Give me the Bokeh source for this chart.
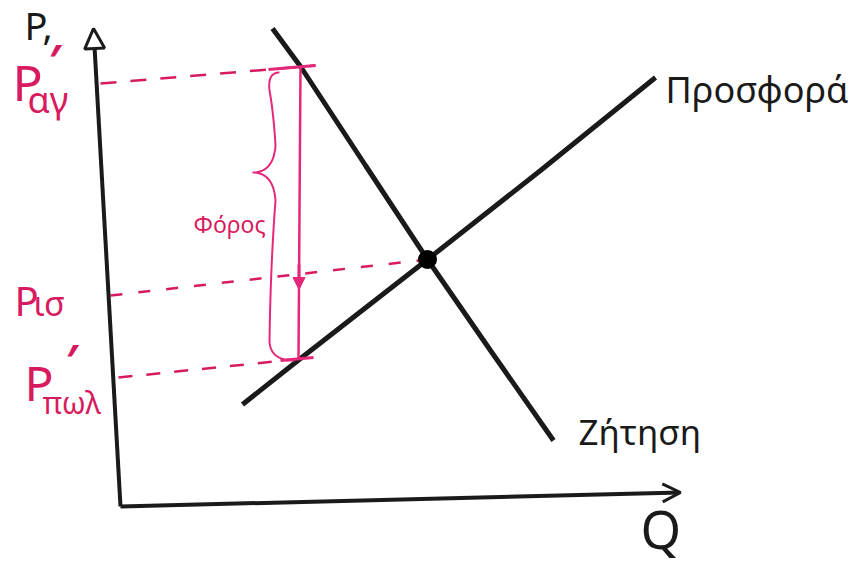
import numpy as np
from bokeh.plotting import figure
from bokeh.models import Range1d, Arrow, NormalHead, OpenHead
from bokeh.core.properties import value
from bokeh.embed import file_html
from bokeh.resources import INLINE

# ---- data (Q, P in sketch units) ----
demand_q = [15.2, 18.0, 24.5, 30.7, 37.0, 43.3]
demand_p = [47.8, 44.0, 34.1, 24.7, 15.6, 6.6]
supply_q = [12.2, 18.0, 30.7, 42.0, 53.5]
supply_p = [10.2, 14.8, 24.7, 33.6, 42.9]
eq_q, eq_p = 30.7, 24.7
p_buyer, p_eq, p_seller = 44.0, 24.7, 14.8        # price levels at the curves
p_buyer_axis, p_eq_axis, p_seller_axis = 42.3, 21.1, 12.9   # hand-drawn level at the P axis
q_tax = 17.9                                       # quantity where the tax arrow is drawn
labels_main = ["P", "P", "P"]
labels_sub = ["αγ", "ισ", "πωλ"]
label_tax = "Φόρος"
label_supply = "Προσφορά"
label_demand = "Ζήτηση"
axis_p_label = "P,"
axis_q_label = "Q"

PINK = "#d81b60"
PINK2 = "#e6287a"
INK = "#1a1a1a"
FONT = value("Noto Sans")

p = figure(width=857, height=568, output_backend="svg", toolbar_location=None,
           x_range=Range1d(-12.0, 73.7), y_range=Range1d(-6.2, 50.6),
           min_border=0, background_fill_color="white")
p.axis.visible = False
p.grid.visible = False
p.outline_line_color = None

# axes (hand drawn)
p.add_layout(Arrow(end=NormalHead(size=20, fill_color="white", line_color=INK, line_width=3),
                   x_start=0, y_start=0, x_end=-2.7, y_end=47.8,
                   line_color=INK, line_width=4))
p.add_layout(Arrow(end=OpenHead(size=18, line_color=INK, line_width=3),
                   x_start=0, y_start=0, x_end=56.0, y_end=1.4,
                   line_color=INK, line_width=4))

# dashed price lines
p.line([-2.0, q_tax + 1.6], [p_buyer_axis, p_buyer + 0.1], line_color=PINK,
       line_width=2.5, line_dash="16 14")
p.line([-1.0, eq_q], [p_eq_axis, p_eq], line_color=PINK, line_width=2.5, line_dash="12 16")
p.line([-0.2, q_tax + 1.4], [p_seller_axis, p_seller + 0.1], line_color=PINK,
       line_width=2.5, line_dash="14 14")

# curves
p.line(demand_q, demand_p, line_color=INK, line_width=5)
p.line(supply_q, supply_p, line_color=INK, line_width=5)
p.scatter([eq_q], [eq_p], size=18, color="black")

# tax arrow
p.line([q_tax + 0.1, q_tax - 0.1], [p_buyer, p_seller], line_color=PINK2, line_width=2.5)
p.line([q_tax - 3.1, q_tax + 1.6], [p_buyer - 0.3, p_buyer + 0.1], line_color=PINK2, line_width=3)
p.line([q_tax - 1.9, q_tax + 1.4], [p_seller - 0.2, p_seller + 0.1], line_color=PINK2, line_width=3)
p.add_layout(Arrow(end=NormalHead(size=12, fill_color=PINK2, line_color=PINK2),
                   x_start=q_tax - 0.05, y_start=p_eq - 0.5, x_end=q_tax - 0.05, y_end=p_eq - 3.0,
                   line_color=PINK2, line_width=3))

# curly brace
def qbez(a, c, b, n=20):
    t = np.linspace(0, 1, n)[:, None]
    a, c, b = map(np.array, (a, c, b))
    return (1 - t) ** 2 * a + 2 * (1 - t) * t * c + t ** 2 * b

top, bot = p_buyer - 0.6, p_seller - 0.2
mid = (top + bot) / 2 + 4.4
xs, tip = q_tax - 2.6, q_tax - 4.7
segs = [
    qbez((xs + 0.6, top), (xs - 0.6, top), (xs - 0.4, top - 1.8)),
    qbez((xs - 0.4, top - 1.8), (xs, top - 4), (xs + 0.2, mid + 2.7)),
    qbez((xs + 0.2, mid + 2.7), (xs, mid), (tip, mid)),
    qbez((tip, mid), (xs, mid), (xs + 0.2, mid - 2.8)),
    qbez((xs + 0.2, mid - 2.8), (xs - 0.3, (mid + bot) / 2), (xs - 0.4, bot + 1.9)),
    qbez((xs - 0.4, bot + 1.9), (xs - 0.3, bot), (xs + 2.1, bot)),
]
br = np.vstack(segs)
p.line(br[:, 0], br[:, 1], line_color=PINK2, line_width=2)

# texts
def txt(x, y, s, size, color, style="normal"):
    p.text([x], [y], text=[s], text_font=FONT, text_font_size=f"{size}px",
           text_color=color, text_align="left", text_baseline="alphabetic",
           text_font_style=style)

txt(-9.6, 48.2, axis_p_label, 38, INK)
txt(52.0, -2.2, axis_q_label, 52, INK)
txt(54.5, 41.7, label_supply, 36, INK)
txt(45.8, 7.5, label_demand, 35, INK)
txt(7.3, 28.3, label_tax, 23, PINK)

# price labels
txt(-10.8, 42.5, labels_main[0], 50, PINK)
txt(-7.2, 44.7, "′", 44, PINK, "bold")
txt(-9.3, 40.7, labels_sub[0], 36, PINK)

txt(-10.6, 20.6, labels_main[1], 40, PINK)
txt(-8.7, 20.4, labels_sub[1], 34, PINK)

txt(-9.6, 12.4, labels_main[2], 48, PINK)
txt(-5.5, 14.7, "′", 44, PINK, "bold")
txt(-7.8, 10.4, labels_sub[2], 30, PINK)

open("out.html", "w").write(file_html(p, INLINE))
